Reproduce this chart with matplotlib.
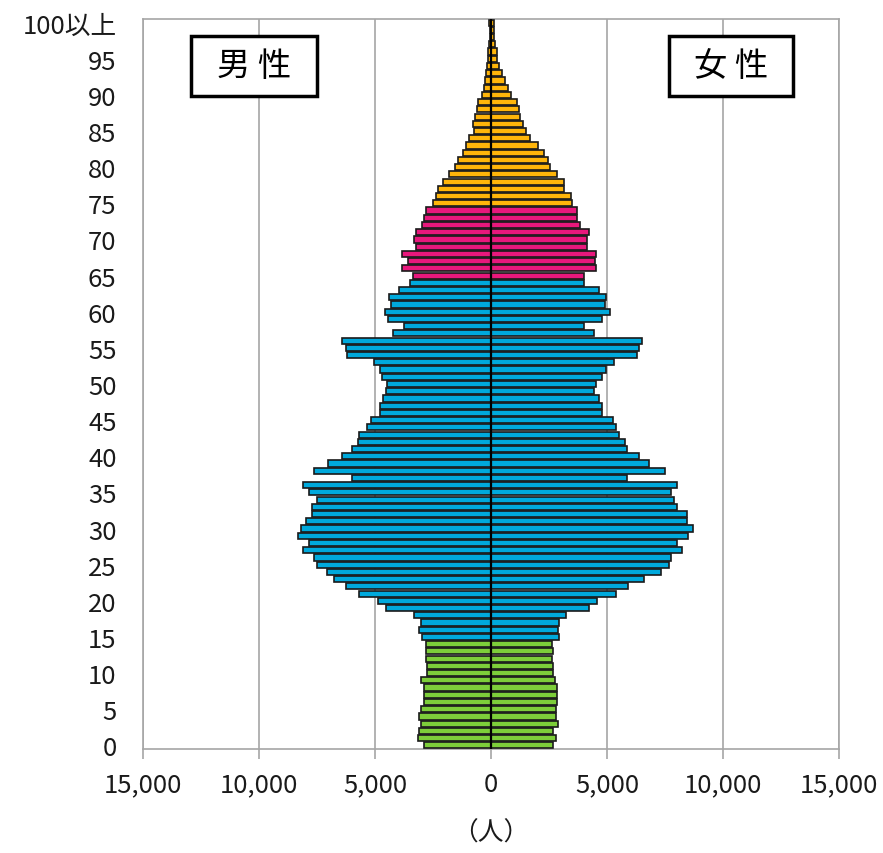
import matplotlib
matplotlib.use("Agg")
import matplotlib.pyplot as plt
from matplotlib.patches import Rectangle
from matplotlib.ticker import FuncFormatter

plt.rcParams['font.family'] = ['Noto Sans CJK JP', 'DejaVu Sans']

# ages 0..100 (100 = 100以上)
ages = list(range(101))

male = [2890, 3160, 3090, 3030, 3090, 3030, 2890, 2890, 2890, 3030,
        2740, 2740, 2820, 2820, 2820, 2960, 3100, 3030, 3300, 4530,
        4860, 5680, 6260, 6750, 7080, 7490, 7630, 8090, 7830, 8300,
        8190, 7970, 7700, 7700, 7490, 7830, 8090, 6010, 7630, 7010,
        6410, 6010, 5750, 5680, 5330, 5190, 4780, 4780, 4670, 4530,
        4470, 4710, 4780, 5040, 6190, 6260, 6410, 4240, 3750, 4450,
        4570, 4310, 4380, 3970, 3490, 3380, 3820, 3560, 3820, 3230,
        3300, 3230, 2960, 2890, 2820, 2490, 2370, 2300, 2080, 1810,
        1550, 1410, 1220, 1080, 940, 740, 790, 690, 620, 550,
        400, 300, 260, 220, 160, 110, 110, 70, 40, 40, 70]

female = [2690, 2800, 2690, 2900, 2800, 2800, 2830, 2830, 2830, 2760,
          2660, 2690, 2610, 2690, 2610, 2950, 2900, 2950, 3230, 4240,
          4580, 5390, 5920, 6610, 7330, 7690, 7740, 8220, 8000, 8510,
          8690, 8460, 8430, 8030, 7890, 7740, 8030, 5880, 7500, 6810,
          6390, 5880, 5780, 5530, 5370, 5240, 4770, 4770, 4660, 4450,
          4510, 4770, 4960, 5320, 6280, 6390, 6520, 4440, 4020, 4770,
          5130, 4910, 4960, 4660, 4020, 4020, 4510, 4480, 4510, 4150,
          4150, 4240, 3840, 3690, 3690, 3510, 3430, 3160, 3160, 2830,
          2540, 2440, 2300, 2010, 1680, 1490, 1390, 1250, 1220, 1110,
          860, 750, 600, 460, 340, 270, 270, 170, 130, 130, 130]

ytick_vals = list(range(0, 101, 5))
ytick_labels = [str(v) for v in range(0, 100, 5)] + ['100以上']


def age_color(a):
    if a < 15:
        return '#7DCE3A'
    if a < 65:
        return '#00A9DC'
    if a < 75:
        return '#E8187C'
    return '#FFB50A'


colors = [age_color(a) for a in ages]

fig = plt.figure(figsize=(8.83, 8.54), dpi=100)
ax = fig.add_axes([143/883, 1 - 750/854, 696/883, 730/854])

ax.barh(ages, [-m for m in male], height=0.85, color=colors,
        edgecolor='#1a1a1a', linewidth=1.2, zorder=3)
ax.barh(ages, female, height=0.85, color=colors,
        edgecolor='#1a1a1a', linewidth=1.2, zorder=3)
ax.axvline(0, color='black', linewidth=1.6, zorder=4)

ax.set_xlim(-15000, 15000)
ax.set_ylim(-0.5, 100.5)
ax.set_xticks(range(-15000, 15001, 5000))
ax.xaxis.set_major_formatter(FuncFormatter(lambda v, p: f"{abs(int(v)):,}"))
ax.set_yticks(ytick_vals)
ax.set_yticklabels(ytick_labels)

ax.grid(axis='x', color='#A6A6A6', linewidth=1.2, zorder=0)
for s in ax.spines.values():
    s.set_color('#A6A6A6')
    s.set_linewidth(1.2)

ax.tick_params(axis='y', length=0, pad=19, labelsize=18.5, colors='#1a1a1a')
ax.tick_params(axis='x', length=7, width=1.2, color='#A6A6A6', pad=9,
               labelsize=18.5, labelcolor='#1a1a1a')

ax.set_xlabel('（人）', fontsize=18.5, labelpad=16, color='#1a1a1a')

# gender boxes
for x0, x1, label in [(191, 317, '男 性'), (669, 793, '女 性')]:
    fx0 = (x0 - 143) / 696
    fw = (x1 - x0) / 696
    fy0 = (750 - 97) / 730
    fh = 60 / 730
    ax.add_patch(Rectangle((fx0, fy0), fw, fh, transform=ax.transAxes,
                           facecolor='white', edgecolor='black',
                           linewidth=2.5, zorder=5))
    ax.text(fx0 + fw / 2, fy0 + fh / 2, label, transform=ax.transAxes,
            ha='center', va='center', fontsize=24, color='black', zorder=6)

fig.savefig('out.png', dpi=100)
